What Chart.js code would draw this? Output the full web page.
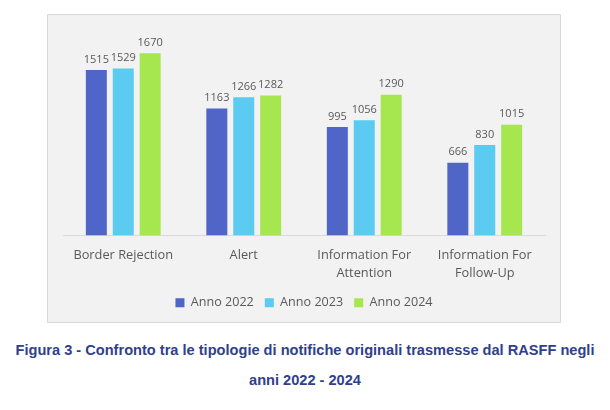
<!DOCTYPE html>
<html>
<head>
<meta charset="utf-8">
<script src="https://cdn.jsdelivr.net/npm/chart.js@4.4.1/dist/chart.umd.min.js"></script>
<style>
  body { margin: 0; background: #fff; width: 610px; height: 410px; position: relative; overflow: hidden; }
  #box { position: absolute; left: 47px; top: 14px; width: 512px; height: 307px; background: #f2f2f2; border: 1px solid #d9d9d9; }
  .cap { position: absolute; left: 0; width: 610px; text-align: center; font-family: "Liberation Sans", Arial, sans-serif; font-weight: bold; font-size: 14.6px; color: #2f3f8c; }
</style>
</head>
<body>
<div id="box"><canvas id="myChart" width="512" height="307"></canvas></div>
<div class="cap" style="top:342px">Figura 3 - Confronto tra le tipologie di notifiche originali trasmesse dal RASFF negli</div>
<div class="cap" style="top:372px">anni 2022 - 2024</div>
<script>
// data
const categories = [['Border Rejection'], ['Alert'], ['Information For', 'Attention'], ['Information For', 'Follow-Up']];
const years = ['Anno 2022', 'Anno 2023', 'Anno 2024'];
const anno2022 = [1515, 1163, 995, 666];
const anno2023 = [1529, 1266, 1056, 830];
const anno2024 = [1670, 1282, 1290, 1015];
const colors = ['#4f65c8', '#5bcbf1', '#a6e74f'];

// draws the value over each bar
const valueLabels = {
  id: 'valueLabels',
  afterDatasetsDraw(chart) {
    const c = chart.ctx;
    c.save();
    c.font = '11px "Open Sans", sans-serif';
    c.fillStyle = '#595959';
    c.textAlign = 'center';
    c.textBaseline = 'bottom';
    chart.data.datasets.forEach((ds, i) => {
      chart.getDatasetMeta(i).data.forEach((bar, j) => {
        c.fillText(ds.data[j], bar.x, bar.y - 5);
      });
    });
    c.restore();
  }
};

const ctx = document.getElementById('myChart');
const allData = [anno2022, anno2023, anno2024];

var myChart = new Chart(ctx, {
  type: 'bar',
  data: {
    labels: categories,
    datasets: years.map((y, i) => ({
      label: y,
      data: allData[i],
      backgroundColor: colors[i],
      categoryPercentage: 0.67,
      barPercentage: 0.78
    }))
  },
  options: {
    responsive: false,
    animation: false,
    layout: { padding: { top: 24, left: 15, right: 15, bottom: 3 } },
    plugins: {
      tooltip: { enabled: false },
      legend: {
        position: 'bottom',
        labels: {
          boxWidth: 9,
          boxHeight: 9,
          padding: 11,
          color: '#595959',
          font: { family: '"Open Sans", sans-serif', size: 12.6 }
        }
      }
    },
    scales: {
      x: {
        grid: { display: false },
        border: { display: true, color: '#d9d9d9' },
        ticks: {
          color: '#595959',
          maxRotation: 0,
          autoSkip: false,
          padding: 3,
          font: { family: '"Open Sans", sans-serif', size: 12.8, lineHeight: 1.4 }
        }
      },
      y: {
        display: false,
        min: 0,
        max: 1800
      }
    }
  },
  plugins: [valueLabels]
});
</script>
</body>
</html>
